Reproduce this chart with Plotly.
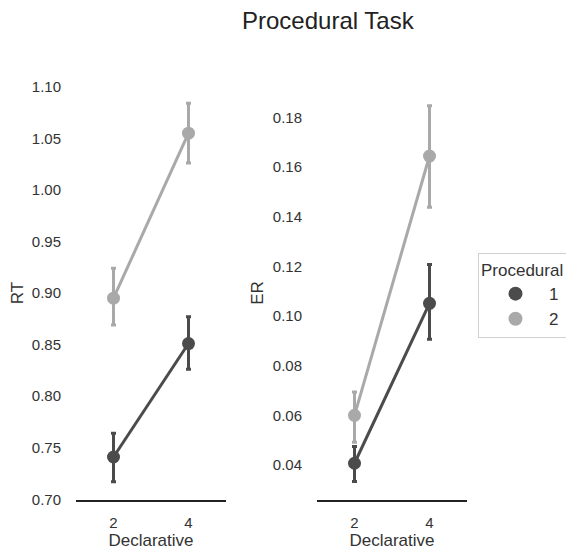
import plotly.graph_objects as go

declarative = ["2", "4"]
groups = ["1", "2"]
colors = {"1": "#4b4b4b", "2": "#a9a9a9"}

rt_mean = {"1": [0.741, 0.851], "2": [0.895, 1.055]}
rt_low = {"1": [0.717, 0.826], "2": [0.869, 1.026]}
rt_high = {"1": [0.764, 0.877], "2": [0.924, 1.084]}

er_mean = {"1": [0.0407, 0.1051], "2": [0.0600, 0.1644]}
er_low = {"1": [0.0333, 0.0906], "2": [0.0492, 0.1438]}
er_high = {"1": [0.0474, 0.1207], "2": [0.0694, 0.1846]}

fig = go.Figure()

def add_panel(mean, low, high, xa, ya):
    for g in groups:
        m = mean[g]
        plus = [h - v for h, v in zip(high[g], m)]
        minus = [v - l for l, v in zip(low[g], m)]
        fig.add_trace(go.Scatter(
            x=declarative, y=m, mode="lines+markers",
            line=dict(color=colors[g], width=3),
            marker=dict(color=colors[g], size=13),
            error_y=dict(type="data", symmetric=False, array=plus, arrayminus=minus,
                         color=colors[g], thickness=3, width=2.5),
            xaxis=xa, yaxis=ya, showlegend=False))

add_panel(rt_mean, rt_low, rt_high, "x", "y")
add_panel(er_mean, er_low, er_high, "x2", "y2")

for g in groups:
    fig.add_trace(go.Scatter(x=[None], y=[None], mode="markers", name=g,
                             marker=dict(color=colors[g], size=14)))

font_family = "Liberation Sans, Arial, sans-serif"
W, H = 574, 554
ML, MR, MT, MB = 40, 0, 60, 40
PW, PH = W - ML - MR, H - MT - MB

def px(v):
    return (v - ML) / PW

def py(v):
    return (H - MB - v) / PH

ydom = [py(492), py(78)]

xcommon = dict(type="category", range=[-0.5, 1.5], showline=True, linecolor="#222222",
               linewidth=1.5, showgrid=False, zeroline=False, ticks="", automargin=False,
               tickfont=dict(size=15, color="#333333"), ticklabelstandoff=8,
               title=dict(text="Declarative", font=dict(size=17, color="#333333"), standoff=4))
ycommon = dict(showline=False, showgrid=False, zeroline=False, ticks="", automargin=False,
               tickfont=dict(size=15, color="#333333"), ticklabelstandoff=14)

fig.update_layout(
    width=W, height=H,
    margin=dict(l=ML, r=MR, t=MT, b=MB, autoexpand=False),
    paper_bgcolor="white", plot_bgcolor="white",
    font=dict(family=font_family, color="#333333"),
    annotations=[dict(text="Procedural Task", x=px(320), y=py(13), xref="paper", yref="paper",
                      xanchor="center", yanchor="middle", showarrow=False,
                      font=dict(size=24, color="#222222"))],
    xaxis=dict(domain=[px(68), px(218)], anchor="y", **xcommon),
    xaxis2=dict(domain=[px(309), px(459)], anchor="y2", **xcommon),
    yaxis=dict(domain=ydom, anchor="x", range=[0.6993, 1.1007],
               tickvals=[0.70, 0.75, 0.80, 0.85, 0.90, 0.95, 1.00, 1.05, 1.10],
               ticktext=["0.70", "0.75", "0.80", "0.85", "0.90", "0.95", "1.00", "1.05", "1.10"],
               title=dict(text="RT", font=dict(size=17, color="#333333"), standoff=4), **ycommon),
    yaxis2=dict(domain=ydom, anchor="x2", range=[0.0259, 0.1926],
                tickvals=[0.04, 0.06, 0.08, 0.10, 0.12, 0.14, 0.16, 0.18],
                ticktext=["0.04", "0.06", "0.08", "0.10", "0.12", "0.14", "0.16", "0.18"],
                title=dict(text="ER", font=dict(size=17, color="#333333"), standoff=4), **ycommon),
    legend=dict(x=px(470), y=py(245), xanchor="left", yanchor="top",
                bordercolor="#d0d0d0", borderwidth=1, bgcolor="white",
                title=dict(text="Procedural", font=dict(size=17, color="#333333")),
                font=dict(size=17, color="#333333"), tracegroupgap=0,
                indentation=3, itemwidth=57),
)

fig.write_html("out.html")
